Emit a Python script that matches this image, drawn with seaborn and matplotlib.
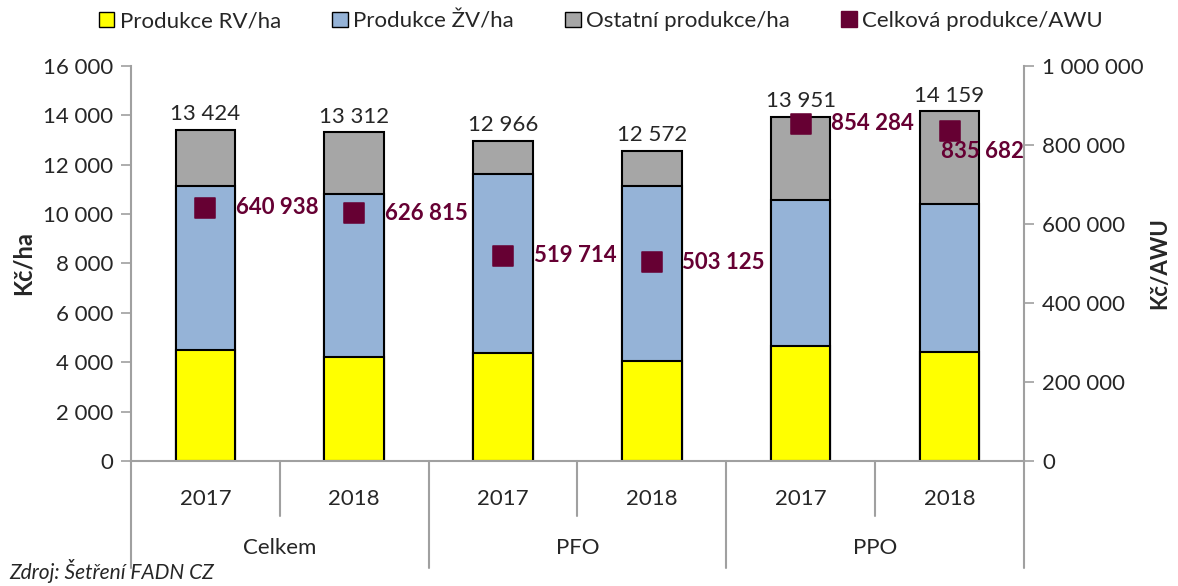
import numpy as np
import pandas as pd
import seaborn as sns
import matplotlib
matplotlib.use("Agg")
import matplotlib.pyplot as plt
from matplotlib.patches import Patch
from matplotlib.lines import Line2D
from matplotlib.ticker import FuncFormatter, MultipleLocator
import matplotlib.transforms as mtransforms

# data
groups = ["Celkem", "Celkem", "PFO", "PFO", "PPO", "PPO"]
years = ["2017", "2018", "2017", "2018", "2017", "2018"]
rv_ha = [4496, 4210, 4370, 4050, 4660, 4410]
zv_ha = [6644, 6600, 7250, 7090, 5910, 6000]
other_ha = [2284, 2502, 1346, 1432, 3381, 3749]
total_ha = [13424, 13312, 12966, 12572, 13951, 14159]
prod_awu = [640938, 626815, 519714, 503125, 854284, 835682]

c_rv = "#FFFF00"
c_zv = "#95B3D7"
c_other = "#A6A6A6"
c_awu = "#660033"
c_axis = "#A0A0A0"

sns.set_style("white")
plt.rcParams['font.family'] = ['Lato', 'DejaVu Sans']
plt.rcParams['font.size'] = 16

df = pd.DataFrame({
    'slot': [g + " " + y for g, y in zip(groups, years)],
    'rv': rv_ha,
    'zv': zv_ha,
    'other': other_ha,
})
df['rv_zv'] = df['rv'] + df['zv']
df['tot'] = df['rv_zv'] + df['other']

fig = plt.figure(figsize=(11.78, 5.86), dpi=100)
ax = fig.add_axes([0.1112, 0.2133, 0.7580, 0.6741])

bar_kw = dict(width=0.4, edgecolor='black', linewidth=1.5, ax=ax)
sns.barplot(data=df, x='slot', y='tot', color=c_other, saturation=1, **bar_kw)
sns.barplot(data=df, x='slot', y='rv_zv', color=c_zv, saturation=1, **bar_kw)
sns.barplot(data=df, x='slot', y='rv', color=c_rv, saturation=1, **bar_kw)

ax.set_xlim(-0.5, len(df) - 0.5)
ax.set_ylim(0, 16000)
ax.yaxis.set_major_locator(MultipleLocator(2000))
fmt = FuncFormatter(lambda v, p: f"{v:,.0f}".replace(",", " "))
ax.yaxis.set_major_formatter(fmt)
ax.set_xlabel("")
ax.set_ylabel("Kč/ha", fontweight='bold', fontsize=17)
ax.yaxis.set_label_coords(-0.108, 0.5)

ax.set_xticks(range(len(df)))
ax.set_xticklabels(years)
ax.tick_params(axis='x', length=0, pad=20, labelsize=16)
ax.tick_params(axis='y', length=7, width=1.2, color=c_axis, direction='out',
               left=True, labelsize=16, pad=6)

for s in ['top', 'right']:
    ax.spines[s].set_visible(False)
for s in ['left', 'bottom']:
    ax.spines[s].set_color(c_axis)
    ax.spines[s].set_linewidth(1.5)

# totals above bars
for i, t in enumerate(total_ha):
    ax.annotate(f"{t:,}".replace(",", " "), (i, df['tot'][i]),
                xytext=(0, 4), textcoords='offset points',
                ha='center', va='bottom', fontsize=16)

# category separators and group labels
trans = mtransforms.blended_transform_factory(ax.transData, ax.transAxes)
for k in range(len(df) + 1):
    xb = k - 0.5
    is_long = (k == 0) or (k == len(df)) or (groups[k] != groups[k - 1])
    ybot = -0.27 if is_long else -0.14
    ax.plot([xb, xb], [0, ybot], transform=trans, color=c_axis, lw=1.5,
            clip_on=False)
uniq = list(dict.fromkeys(groups))
for g in uniq:
    idx = [i for i, gg in enumerate(groups) if gg == g]
    ax.text(np.mean(idx), -0.22, g, transform=trans, ha='center', va='center',
            fontsize=16)

# right axis: production per AWU
ax2 = ax.twinx()
xs = np.arange(len(df))
sns.scatterplot(x=xs, y=prod_awu, marker='s', s=200, color=c_awu,
                edgecolor=c_awu, ax=ax2, zorder=5, legend=False)
ax2.set_ylim(0, 1000000)
ax2.yaxis.set_major_locator(MultipleLocator(200000))
ax2.yaxis.set_major_formatter(fmt)
ax2.set_ylabel("Kč/AWU", fontweight='bold', fontsize=16)
ax2.yaxis.set_label_coords(1.14, 0.5)
ax2.tick_params(axis='y', length=7, width=1.2, color=c_axis, direction='out',
                right=True, labelsize=16, pad=6)
for s in ['top', 'left', 'bottom']:
    ax2.spines[s].set_visible(False)
ax2.spines['right'].set_color(c_axis)
ax2.spines['right'].set_linewidth(1.5)

for i, v in enumerate(prod_awu):
    lbl = f"{v:,}".replace(",", " ")
    if i == len(prod_awu) - 1:
        off = (-6, -15)
    else:
        off = (22, 0)
    ax2.annotate(lbl, (i, v), xytext=off, textcoords='offset points',
                 ha='left', va='center', fontsize=16, fontweight='bold',
                 color=c_awu)

# legend
handles = [
    Patch(facecolor=c_rv, edgecolor='black', label='Produkce RV/ha'),
    Patch(facecolor=c_zv, edgecolor='black', label='Produkce ŽV/ha'),
    Patch(facecolor=c_other, edgecolor='black', label='Ostatní produkce/ha'),
    Line2D([], [], marker='s', color=c_awu, linestyle='none', markersize=12,
           label='Celková produkce/AWU'),
]
fig.legend(handles=handles, loc='upper center', bbox_to_anchor=(0.51, 1.015),
           ncol=4, frameon=False, fontsize=16, handlelength=0.7,
           handleheight=0.7, handletextpad=0.25, columnspacing=2.3)

fig.text(0.008, 0.025, "Zdroj: Šetření FADN CZ", fontstyle='italic',
         fontsize=15, ha='left', va='center')

fig.savefig("out.png", dpi=100)
